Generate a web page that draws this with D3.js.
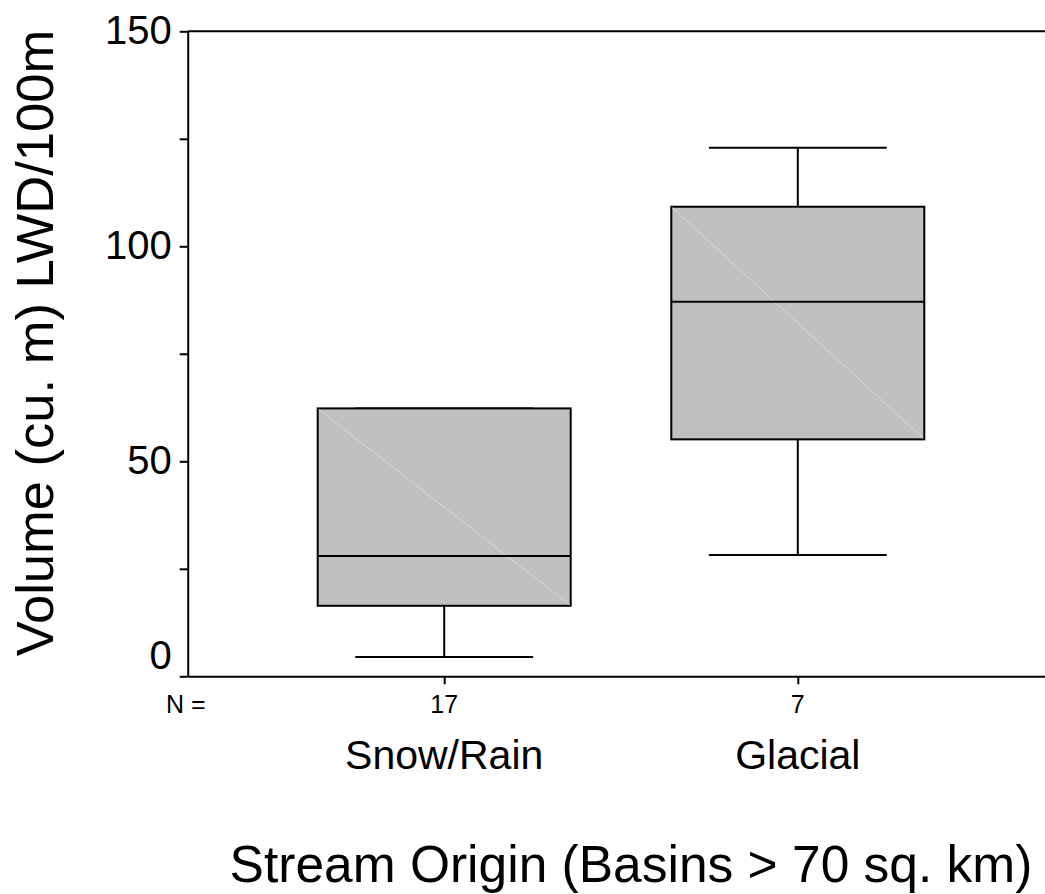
<!DOCTYPE html>
<html>
<head>
<meta charset="utf-8">
<script src="https://cdn.jsdelivr.net/npm/d3@7"></script>
<style>
  html, body { margin: 0; padding: 0; background: #fff; }
  svg { display: block; font-family: "Liberation Sans", Arial, sans-serif; }
</style>
</head>
<body>
<svg id="chart" width="1045" height="894"></svg>
<script>
// ---- data ----
const categories = ["Snow/Rain", "Glacial"];
const counts = [17, 7];
const whiskerLow = [4.5, 28.2];
const q1 = [16.4, 55.1];
const median = [28.0, 87.1];
const q3 = [62.3, 109.2];
const whiskerHigh = [62.3, 122.9];
const yTicks = [0, 25, 50, 75, 100, 125, 150];
const yTickLabels = [0, 50, 100, 150];
const yTitle = "Volume (cu. m) LWD/100m";
const xTitle = "Stream Origin (Basins > 70 sq. km)";

(function () {
// ---- layout ----
const svg = d3.select("#chart");
const W = 1045;
const plotLeft = 187.7, plotTop = 31.3, plotBottom = 676.3;
const step = 353.6;
const pad = 0.7254;

const x = d3.scalePoint().domain(categories)
  .range([plotLeft, plotLeft + step * (categories.length - 1 + 2 * pad)])
  .padding(pad);
const y = d3.scaleLinear().domain([0, 150]).range([plotBottom, plotTop]);

const boxW = 0.7155 * step;
const capW = 0.503 * step;

const boxes = categories.map((c, i) => ({
  c, n: counts[i], lo: whiskerLow[i], q1: q1[i], med: median[i], q3: q3[i], hi: whiskerHigh[i]
}));

// top border
svg.append("line")
  .attr("x1", plotLeft).attr("x2", W)
  .attr("y1", y(150)).attr("y2", y(150))
  .attr("stroke", "#000").attr("stroke-width", 2);

// y axis
const yAxis = svg.append("g")
  .attr("transform", `translate(${plotLeft},0)`)
  .call(d3.axisLeft(y).tickValues(yTicks).tickSize(8).tickSizeOuter(0).tickPadding(8)
    .tickFormat(d => yTickLabels.includes(d) ? d : ""));
yAxis.select(".domain").attr("stroke", "#000").attr("stroke-width", 2);
yAxis.selectAll(".tick line").attr("stroke", "#000").attr("stroke-width", 2);
yAxis.selectAll(".tick text")
  .attr("font-size", 40).attr("fill", "#000")
  .attr("font-family", "'Liberation Sans', Arial, sans-serif")
  .attr("dy", d => d === 0 ? "-0.2em" : "0.3em");

// x axis
const xAxis = svg.append("g")
  .attr("transform", `translate(0,${plotBottom})`)
  .call(d3.axisBottom(x).tickSize(8).tickSizeOuter(0).tickFormat(""));
xAxis.select(".domain").attr("stroke", "#000").attr("stroke-width", 2);
xAxis.selectAll(".tick line").attr("stroke", "#000").attr("stroke-width", 2);

// boxes
const g = svg.append("g");
const b = g.selectAll("g.box").data(boxes).join("g").attr("class", "box");

// whiskers
b.append("line")
  .attr("x1", d => x(d.c)).attr("x2", d => x(d.c))
  .attr("y1", d => y(d.hi)).attr("y2", d => y(d.q3))
  .attr("stroke", "#000").attr("stroke-width", 2);
b.append("line")
  .attr("x1", d => x(d.c)).attr("x2", d => x(d.c))
  .attr("y1", d => y(d.q1)).attr("y2", d => y(d.lo))
  .attr("stroke", "#000").attr("stroke-width", 2);
// caps
b.append("line")
  .attr("x1", d => x(d.c) - capW / 2).attr("x2", d => x(d.c) + capW / 2)
  .attr("y1", d => y(d.hi)).attr("y2", d => y(d.hi))
  .attr("stroke", "#000").attr("stroke-width", 2);
b.append("line")
  .attr("x1", d => x(d.c) - capW / 2).attr("x2", d => x(d.c) + capW / 2)
  .attr("y1", d => y(d.lo)).attr("y2", d => y(d.lo))
  .attr("stroke", "#000").attr("stroke-width", 2);
// box rect
b.append("rect")
  .attr("x", d => x(d.c) - boxW / 2).attr("width", boxW)
  .attr("y", d => y(d.q3)).attr("height", d => y(d.q1) - y(d.q3))
  .attr("fill", "#c0c0c0").attr("stroke", "#000").attr("stroke-width", 2);
// faint diagonal
b.append("line")
  .attr("x1", d => x(d.c) - boxW / 2 + 1).attr("x2", d => x(d.c) + boxW / 2 - 1)
  .attr("y1", d => y(d.q3) + 1).attr("y2", d => y(d.q1) - 1)
  .attr("stroke", "#d6d6d6").attr("stroke-width", 1);
// median
b.append("line")
  .attr("x1", d => x(d.c) - boxW / 2).attr("x2", d => x(d.c) + boxW / 2)
  .attr("y1", d => y(d.med)).attr("y2", d => y(d.med))
  .attr("stroke", "#000").attr("stroke-width", 2);

// N labels
svg.append("text").attr("x", 166).attr("y", 713)
  .attr("font-size", 25).text("N =");
svg.selectAll("text.n").data(boxes).join("text").attr("class", "n")
  .attr("x", d => x(d.c)).attr("y", 713)
  .attr("text-anchor", "middle").attr("font-size", 25)
  .text(d => d.n);

// category labels
svg.selectAll("text.cat").data(boxes).join("text").attr("class", "cat")
  .attr("x", d => x(d.c)).attr("y", 769)
  .attr("text-anchor", "middle").attr("font-size", 41)
  .text(d => d.c);

// axis titles
svg.append("text").attr("x", 631).attr("y", 882)
  .attr("text-anchor", "middle").attr("font-size", 51.5)
  .text(xTitle);
svg.append("text")
  .attr("transform", "rotate(-90)")
  .attr("x", -343).attr("y", 53)
  .attr("text-anchor", "middle").attr("font-size", 52.5)
  .text(yTitle);
})();
</script>
</body>
</html>
